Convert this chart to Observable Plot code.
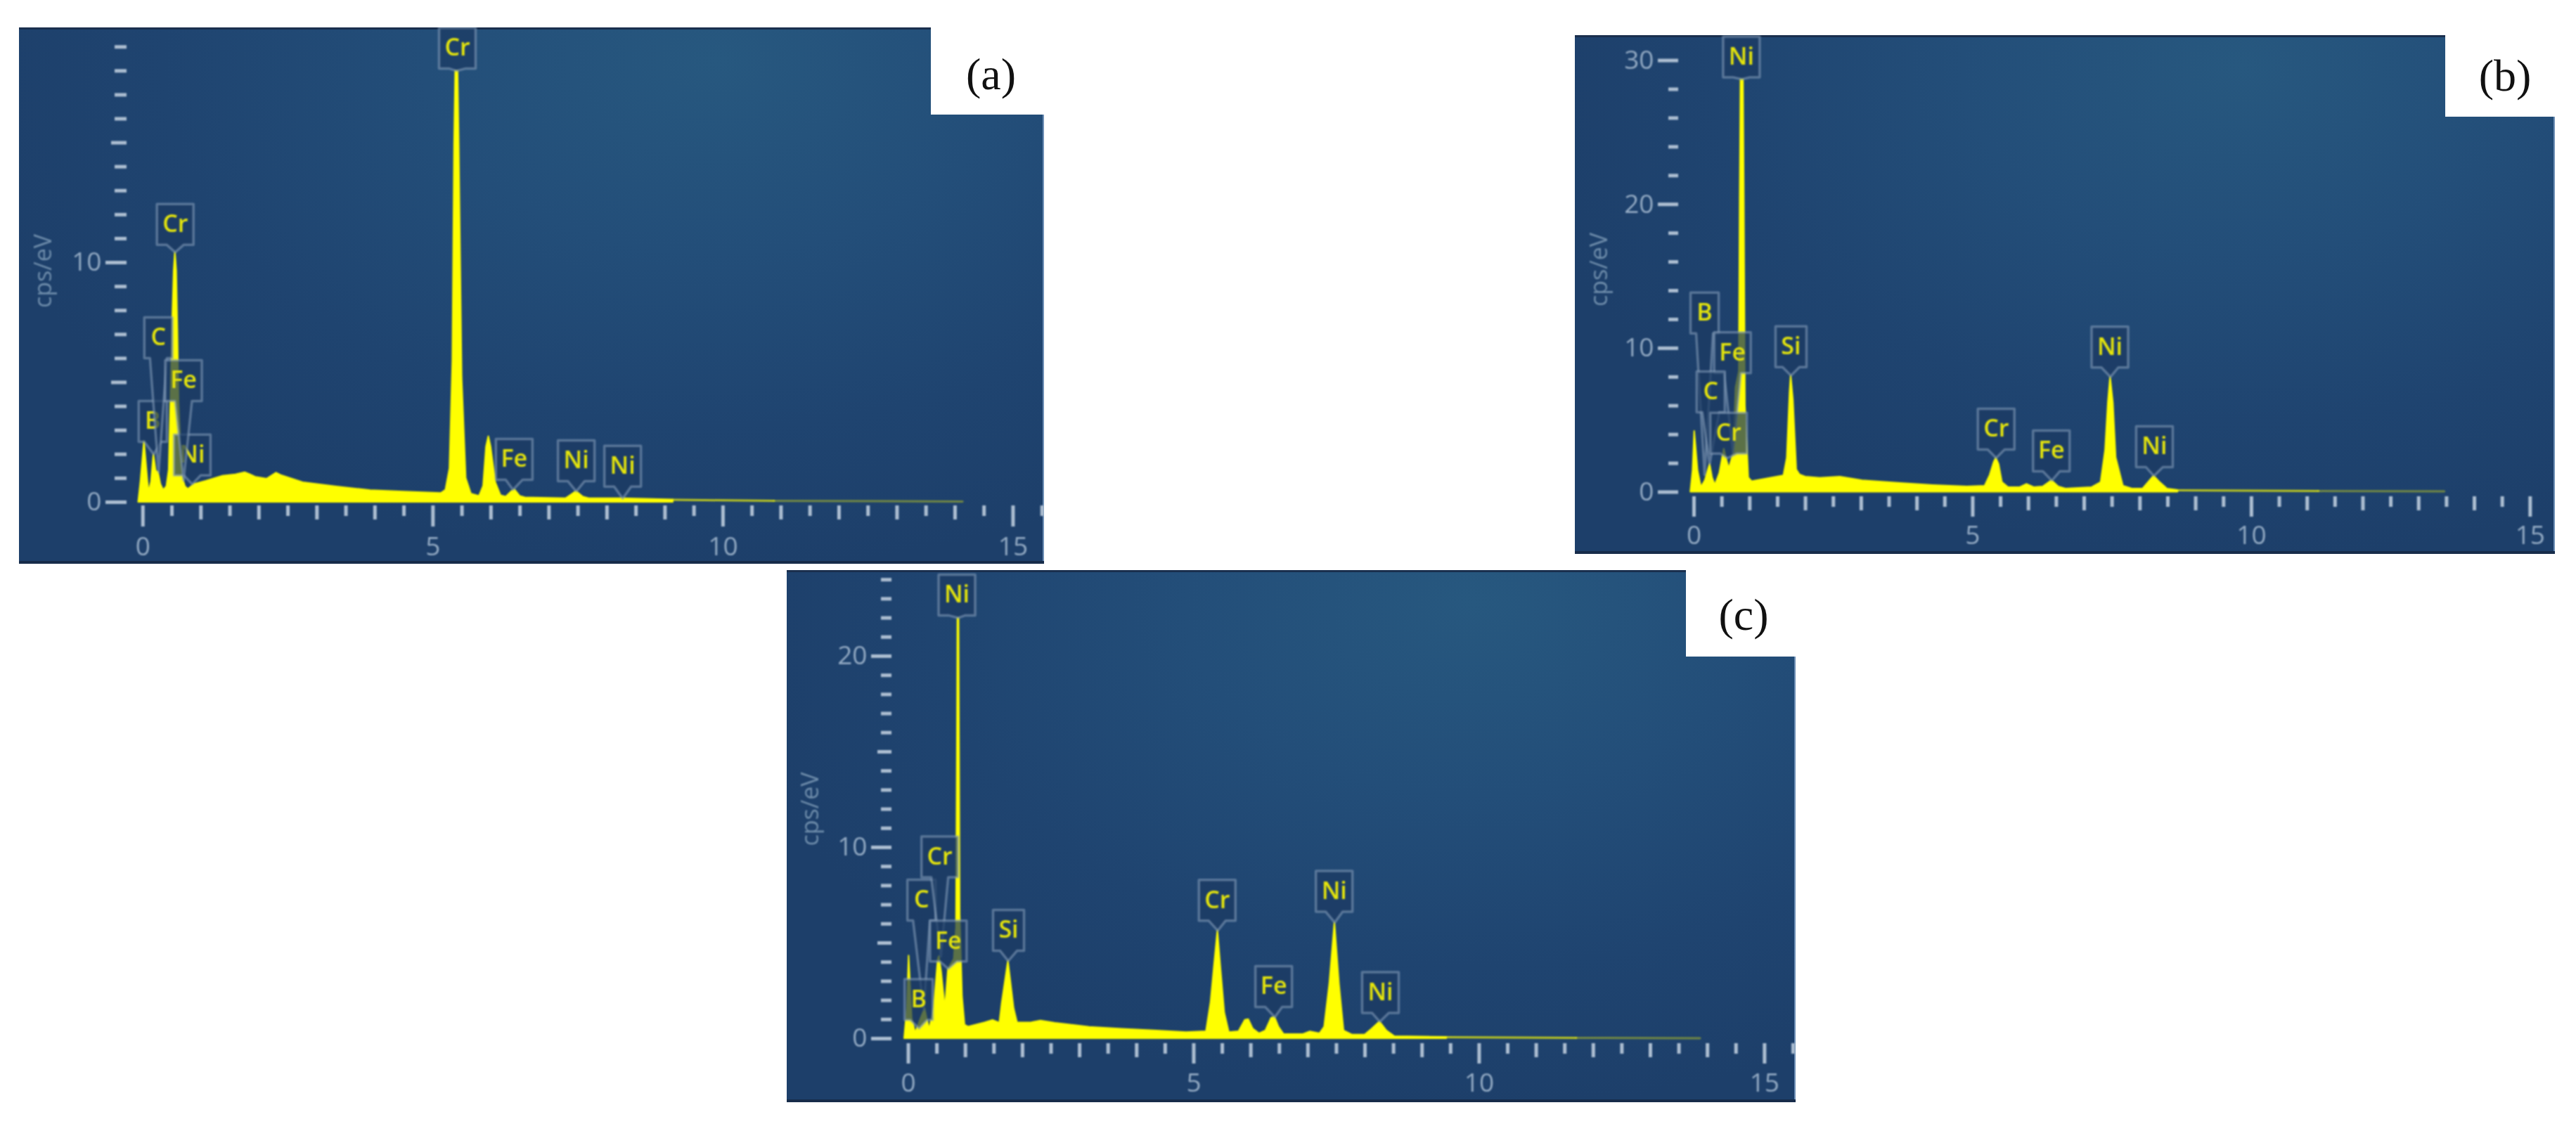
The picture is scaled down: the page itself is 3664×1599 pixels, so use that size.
<!DOCTYPE html>
<html>
<head>
<meta charset="utf-8">
<script src="https://cdn.jsdelivr.net/npm/d3@7"></script>
<script src="https://cdn.jsdelivr.net/npm/@observablehq/plot@0.6"></script>
<style>
html,body{margin:0;padding:0;background:#fff;width:3664px;height:1599px;overflow:hidden}
.panel{position:absolute;overflow:hidden;
box-shadow:inset 0 3px 0 #1a2f4e,inset 0 -4px 0 #172c4a,inset -2px 0 0 #6f90b6;
background:radial-gradient(ellipse 75% 95% at 68% 6%,#27587f 0%,#234e79 38%,#1f4470 72%,#1d3f6a 100%)}
.panel svg{position:absolute;left:0;top:2px;filter:blur(1.1px)}
.notch{position:absolute;background:#fff;display:flex;align-items:center;justify-content:center;
font-family:"Liberation Serif",serif;font-size:64px;color:#111}
</style>
</head>
<body>
<script>
// ---------- Panel (a) ----------
const aEnergy = [-0.076,-0.037,0.024,0.085,0.105,0.145,0.186,0.226,0.267,0.307,0.355,0.41,0.45,0.48,0.51,0.536,0.557,0.58,0.6,0.62,0.65,0.68,0.73,0.78,0.89,1.09,1.38,1.6,1.76,1.85,1.94,2.14,2.3,2.38,2.76,3.34,3.92,4.5,5.14,5.22,5.29,5.34,5.37,5.39,5.43,5.45,5.5,5.57,5.66,5.8,5.87,5.92,5.96,6,6.08,6.17,6.26,6.36,6.41,6.5,6.59,7.29,7.38,7.47,7.59,7.69,8.27,9.14,10.88,14.13];
const aCps = [0,0.85,2.54,0.85,0.41,0.85,2,1.3,1.24,0.75,0.5,0.65,1.34,4.17,7.5,9.65,10.43,9.65,7.2,4.17,2.5,1.05,0.65,0.54,0.75,0.88,1.09,1.15,1.24,1.15,1.05,0.97,1.22,1.12,0.82,0.64,0.49,0.43,0.37,0.5,1.4,5.9,14.9,18,18,14.9,5.2,1,0.34,0.25,0.67,2.3,2.74,2.3,0.82,0.28,0.22,0.45,0.52,0.25,0.19,0.15,0.3,0.45,0.22,0.15,0.15,0.1,0.06,0.03];
const aNames = ["B","C","Ni","Cr","Fe","Cr","Fe","Ni","Ni"];
const aTipE = [0.186,0.27,0.85,0.557,0.7,5.41,6.38,7.47,8.27];
const aTipC = [2,1.24,0.75,10.43,0.9,18,0.52,0.45,0.15];
const aBoxE = [0.17,0.267,0.85,0.557,0.7,5.42,6.4,7.47,8.27];
const aBoxC = [3.37,6.86,1.97,11.59,5.07,18.95,1.79,1.73,1.5];

// ---------- Panel (b) ----------
const bEnergy = [-0.06,-0.02,0.01,0.07,0.13,0.2,0.286,0.33,0.38,0.46,0.54,0.59,0.63,0.71,0.75,0.81,0.825,0.84,0.885,0.9,0.92,0.98,1.04,1.61,1.67,1.72,1.74,1.78,1.84,1.9,2,2.26,2.62,3.02,3.65,4.28,4.9,5.22,5.31,5.38,5.42,5.47,5.53,5.64,5.85,5.97,6.1,6.26,6.42,6.54,6.67,7.14,7.3,7.38,7.43,7.47,7.52,7.57,7.7,7.86,8.05,8.15,8.25,8.36,8.49,8.68,11.2,13.46];
const bCps = [0,1.5,4.23,1.5,0.33,0.8,1.95,1,0.49,1.3,3,2.2,1.63,2.69,7.25,8.4,20,28.7,28.7,20,6,1,0.73,1.14,2.36,6.9,8.1,6.4,1.55,1.2,1.05,0.97,1.05,0.8,0.62,0.47,0.37,0.42,1.17,2.04,2.37,1.92,0.67,0.32,0.32,0.55,0.32,0.37,0.8,0.37,0.22,0.32,0.67,2.9,6.2,8,6.2,2.4,0.42,0.22,0.22,0.67,1.12,0.67,0.22,0.12,0.07,0.05];
const bNames = ["B","Fe","C","Cr","Ni","Si","Cr","Fe","Ni","Ni"];
const bTipE = [0.19,0.7,0.28,0.6,0.86,1.74,5.42,6.42,7.47,8.25];
const bTipC = [1.2,2.7,1.95,2.36,28.7,8.1,2.37,0.8,8,1.12];
const bBoxE = [0.19,0.69,0.3,0.62,0.85,1.74,5.42,6.41,7.46,8.26];
const bBoxC = [12.45,9.69,6.96,4.1,30.25,10.1,4.37,2.86,10.08,3.15];

// ---------- Panel (c) ----------
const cEnergy = [-0.068,-0.02,0.01,0.064,0.125,0.2,0.29,0.33,0.37,0.45,0.52,0.54,0.58,0.646,0.7,0.8,0.84,0.855,0.865,0.885,0.895,0.905,0.946,0.99,1.05,1.34,1.48,1.6,1.64,1.75,1.85,1.91,2.16,2.32,2.57,3.17,3.74,4.3,4.87,5.22,5.3,5.36,5.42,5.47,5.54,5.62,5.79,5.9,5.96,6.04,6.15,6.26,6.36,6.42,6.49,6.58,6.92,7.04,7.21,7.29,7.38,7.47,7.55,7.63,7.78,8,8.12,8.26,8.38,8.52,9.43,11.7,13.87];
const cCps = [0,1.6,4.33,1.08,0.28,0.9,1.57,1,0.47,1.57,4.14,4.3,3.5,1.57,3.65,4.14,5.8,15,22,22,15,6.5,2.2,0.71,0.61,0.83,0.96,0.81,1.82,4.06,1.57,0.83,0.84,0.93,0.81,0.6,0.5,0.41,0.32,0.37,1.9,3.8,5.65,3.8,1.35,0.32,0.37,0.97,1,0.5,0.26,0.41,1.07,1.12,0.6,0.22,0.22,0.36,0.26,0.6,2.85,6.07,2.85,0.41,0.19,0.19,0.5,0.88,0.41,0.11,0.07,0.04,0.02];
const cNames = ["Ni","C","Cr","B","Fe","Si","Cr","Fe","Ni","Ni"];
const cTipE = [0.87,0.27,0.57,0.187,0.7,1.75,5.42,6.42,7.47,8.26];
const cTipC = [22,1.5,4.3,0.53,3.65,4.06,5.65,1.12,6.07,0.88];
const cBoxE = [0.85,0.23,0.55,0.18,0.7,1.755,5.41,6.4,7.46,8.27];
const cBoxC = [23.2,7.24,9.5,2.04,5.1,5.66,7.23,2.72,7.7,2.41];

// ---------- Axis ticks ----------
const xTicksMajor = [0,5,10,15];
const xTicksMedium = [1,2,3,4,6,7,8,9,11,12,13,14];
const xTicksMinor = [0.5,1.5,2.5,3.5,4.5,5.5,6.5,7.5,8.5,9.5,10.5,11.5,12.5,13.5,14.5,15.5];
const xTickLabels = ["0","5","10","15"];

const TICK = "#aebfd2", TEXT = "#92a9c2", LABEL = "#6f8dab", YEL = "#ffff00", TXTYEL = "#e4e40c", FONT = '"Open Sans",sans-serif';

function panel(cfg) {
  const {left, top, width, height, marginLeft, marginBottom, xDomain, yDomain, letter, notchLeft, notchBottom} = cfg;
  const pxX = (width - marginLeft) / (xDomain[1] - xDomain[0]);
  const pxY = (height - marginBottom) / (yDomain[1] - yDomain[0]);
  const rows = cfg.energy.map((e, i) => ({e, c: cfg.cps[i]}));
  const n = rows.length;

  const callouts = cfg.names.flatMap((name, i) => {
    const hw = (name.length === 1 ? 20 : name === "Si" ? 22 : 26) / pxX, hh = 29 / pxY, neck = 12 / pxX;
    const bx = cfg.boxE[i], by = cfg.boxC[i], tx = cfg.tipE[i], ty = cfg.tipC[i];
    const poly = [[bx-hw,by+hh],[bx+hw,by+hh],[bx+hw,by-hh],[bx+neck,by-hh],[tx,ty],[bx-neck,by-hh],[bx-hw,by-hh],[bx-hw,by+hh]]
      .map(([x,y]) => ({x,y}));
    return [
      Plot.line(poly, {x:"x", y:"y", curve:"linear", fill:"#1c3a62", fillOpacity:0.72, stroke:"#8aa2bd", strokeOpacity:0.55, strokeWidth:3.5, strokeLinejoin:"round"}),
      Plot.text([{name, x:bx, y:by}], {x:"x", y:"y", text:"name", fill:TXTYEL, fontSize:34, fontFamily:FONT, fontWeight:600})
    ];
  });

  const chart = Plot.plot({
    width, height, marginLeft, marginRight:0, marginTop:0, marginBottom,
    x:{domain:xDomain}, y:{domain:yDomain},
    style:{background:"transparent", overflow:"visible"},
    marks:[
      Plot.areaY(rows.slice(0, n-2), {x:"e", y:"c", curve:"linear", fill:YEL, stroke:YEL, strokeWidth:2}),
      Plot.line(rows.slice(n-3, n-1), {x:"e", y:"c", stroke:YEL, strokeOpacity:0.7, strokeWidth:3}),
      Plot.line(rows.slice(n-2), {x:"e", y:"c", stroke:YEL, strokeOpacity:0.38, strokeWidth:3}),
      Plot.axisY({ticks:cfg.yMinor, tickSize:cfg.ySizes[0], dx:cfg.yDx, stroke:TICK, strokeWidth:5, text:null, label:null}),
      ...(cfg.yMedium.length ? [Plot.axisY({ticks:cfg.yMedium, tickSize:cfg.ySizes[1], dx:cfg.yDx, stroke:TICK, strokeWidth:5, text:null, label:null})] : []),
      Plot.axisY({ticks:cfg.yMajor, tickSize:cfg.ySizes[2], dx:cfg.yDx, tickPadding:6, stroke:TICK, fill:TEXT, strokeWidth:5, fontSize:37, fontFamily:FONT, tickFormat:d => String(d), label:null}),
      Plot.axisX({ticks:xTicksMinor, tickSize:cfg.xSizes[0], dy:cfg.xDy, stroke:TICK, strokeWidth:5, text:null, label:null}),
      Plot.axisX({ticks:xTicksMedium, tickSize:cfg.xSizes[1], dy:cfg.xDy, stroke:TICK, strokeWidth:5, text:null, label:null}),
      Plot.axisX({ticks:xTicksMajor, tickSize:cfg.xSizes[2], dy:cfg.xDy, tickPadding:cfg.xPad, stroke:TICK, fill:TEXT, strokeWidth:5, fontSize:37, fontFamily:FONT, tickFormat:d => xTickLabels[xTicksMajor.indexOf(d)], label:null}),
      Plot.text(["cps/eV"], {frameAnchor:"left", textAnchor:"middle", dx:cfg.labelDx, dy:cfg.labelDy, rotate:-90, fill:LABEL, fontSize:34, fontFamily:FONT}),
      ...callouts
    ]
  });

  const div = document.createElement("div");
  div.className = "panel";
  Object.assign(div.style, {left:left+"px", top:top+"px", width:width+"px", height:height+"px"});
  div.appendChild(chart);
  const notch = document.createElement("div");
  notch.className = "notch";
  const span = document.createElement("span");
  span.textContent = letter;
  span.style.transform = `translate(${cfg.letterShift[0]}px,${cfg.letterShift[1]}px)`;
  notch.appendChild(span);
  Object.assign(notch.style, {left:(notchLeft-left)+"px", top:"0", right:"0", height:(notchBottom-top)+"px"});
  div.appendChild(notch);
  document.body.appendChild(div);
}

panel({
  left:27, top:39, width:1458, height:763, marginLeft:170, marginBottom:87,
  xDomain:[-0.07,15.54], yDomain:[-0.09,19.74], letter:"(a)", notchLeft:1324, notchBottom:163, letterShift:[5,5],
  energy:aEnergy, cps:aCps, names:aNames, tipE:aTipE, tipC:aTipC, boxE:aBoxE, boxC:aBoxC,
  yMinor:[1,2,3,4,6,7,8,9,11,12,13,14,16,17,18,19], yMedium:[5,15], yMajor:[0,10], ySizes:[17,22,30], yDx:-17,
  xSizes:[15,20,30], xDy:2, xPad:14, labelDx:-135, labelDy:6
});
panel({
  left:2240, top:49.5, width:1394, height:738.5, marginLeft:164, marginBottom:88.5,
  xDomain:[-0.063,15.45], yDomain:[-0.12,31.64], letter:"(b)", notchLeft:3478, notchBottom:166, letterShift:[7,0],
  energy:bEnergy, cps:bCps, names:bNames, tipE:bTipE, tipC:bTipC, boxE:bBoxE, boxC:bBoxC,
  yMinor:[2,4,6,8,12,14,16,18,22,24,26,28], yMedium:[], yMajor:[0,10,20,30], ySizes:[14,14,29], yDx:-17,
  xSizes:[15,20,29], xDy:4, xPad:12, labelDx:-129, labelDy:6
});
panel({
  left:1119, top:811, width:1435, height:757, marginLeft:167, marginBottom:90,
  xDomain:[-0.068,15.55], yDomain:[-0.11,24.41], letter:"(c)", notchLeft:2398, notchBottom:934, letterShift:[4,2],
  energy:cEnergy, cps:cCps, names:cNames, tipE:cTipE, tipC:cTipC, boxE:cBoxE, boxC:cBoxC,
  yMinor:[1,2,3,4,6,7,8,9,11,12,13,14,16,17,18,19,21,22,23,24], yMedium:[5,15], yMajor:[0,10,20], ySizes:[15,20,29], yDx:-18,
  xSizes:[15,20,29], xDy:4, xPad:13, labelDx:-133, labelDy:4
});
</script>
</body>
</html>
